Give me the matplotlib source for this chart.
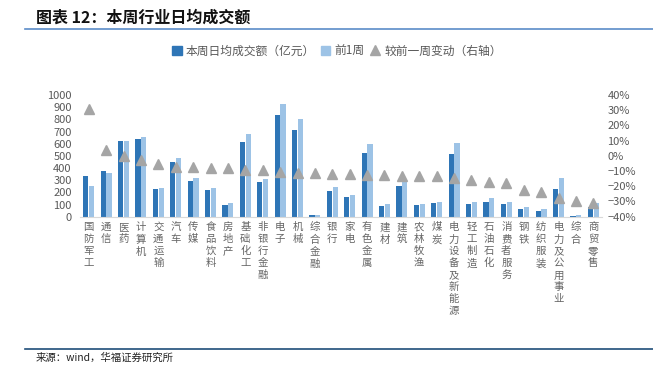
import numpy as np
import matplotlib
matplotlib.use('Agg')
import matplotlib.pyplot as plt
from matplotlib.lines import Line2D
from matplotlib.patches import Patch

plt.rcParams['font.family'] = ['Noto Sans CJK SC', 'DejaVu Sans']
plt.rcParams['axes.unicode_minus'] = False

industries = ['国防军工', '通信', '医药', '计算机', '交通运输', '汽车', '传媒', '食品饮料', '房地产',
              '基础化工', '非银行金融', '电子', '机械', '综合金融', '银行', '家电', '有色金属', '建材',
              '建筑', '农林牧渔', '煤炭', '电力设备及新能源', '轻工制造', '石油石化', '消费者服务',
              '钢铁', '纺织服装', '电力及公用事业', '综合', '商贸零售']
this_week = [334, 375, 622, 638, 227, 452, 296, 219, 99, 611, 282, 833, 712, 14, 214,
             159, 521, 88, 255, 93, 110, 515, 101, 123, 101, 63, 44, 230, 8, 82]
last_week = [252, 362, 622, 652, 238, 485, 318, 238, 110, 677, 310, 926, 800, 14, 241,
             178, 595, 101, 290, 107, 121, 608, 121, 151, 123, 82, 60, 315, 14, 110]
change = [30.8, 3.8, -0.1, -2.7, -5.6, -7.1, -7.3, -8.0, -8.2, -9.1, -9.3, -10.4, -11.0, -11.5, -11.7,
          -11.9, -12.4, -12.8, -13.0, -13.0, -13.0, -14.8, -15.9, -17.4, -18.1, -22.5, -23.6, -28.0, -29.5, -31.2]

dark = '#2E75B6'
light = '#9DC3E6'
grey = '#A5A5A5'
txt = '#595959'

fig = plt.figure(figsize=(6.53, 3.73), dpi=100)
ax = fig.add_axes([80/653, 1-216.7/373, 522/653, 121.7/373])
x = np.arange(len(industries))
w = 0.3
ax.bar(x - 0.17, this_week, w, color=dark)
ax.bar(x + 0.17, last_week, w, color=light)
ax.set_xlim(-0.5, len(industries) - 0.5)
ax.set_ylim(0, 1000)
ax.set_yticks(range(0, 1001, 100))
ax.tick_params(axis='y', length=0, labelsize=8, labelcolor=txt, pad=6)
ax.set_xticks(x)
ax.set_xticklabels(['\n'.join(s) for s in industries], fontsize=7.5, color='#666666', linespacing=1.25)
ax.tick_params(axis='x', length=0, pad=4)
for s in ['top', 'right', 'left']:
    ax.spines[s].set_visible(False)
ax.spines['bottom'].set_color('#D9D9D9')

ax2 = ax.twinx()
ax2.plot(x, change, '^', color=grey, markersize=7, linestyle='none')
ax2.set_ylim(-40, 40)
ax2.set_yticks(range(-40, 41, 10))
ax2.set_yticklabels([('−' if v < 0 else '') + f'{abs(v)}%' for v in range(-40, 41, 10)])
ax2.tick_params(axis='y', length=0, labelsize=8, labelcolor=txt, pad=4)
for s in ['top', 'right', 'left', 'bottom']:
    ax2.spines[s].set_visible(False)

handles = [Patch(color=dark), Patch(color=light),
           Line2D([], [], marker='^', color=grey, linestyle='none', markersize=6.5)]
fig.legend(handles, ['本周日均成交额（亿元）', '前1周', '较前一周变动（右轴）'],
           loc='center', bbox_to_anchor=(337/653, 1-51/373), ncol=3, frameon=False,
           fontsize=8.5, handlelength=0.8, handleheight=0.8, handletextpad=0.35, columnspacing=0.5,
           labelcolor=txt)

fig.text(36/653, 1-18/373, '图表 12：本周行业日均成交额', fontsize=11.5, weight='bold',
         va='center', ha='left', color='#111111')
fig.add_artist(Line2D([25/653, 1], [1-29/373, 1-29/373], color='#5B8CC8', lw=1.2))
fig.add_artist(Line2D([25/653, 1], [1-349/373, 1-349/373], color='#1F4E79', lw=1.2))
fig.text(36/653, 1-358/373, '来源：wind，华福证券研究所', fontsize=7.5, va='center', ha='left', color='#222222')

fig.savefig('out.png', dpi=100)
